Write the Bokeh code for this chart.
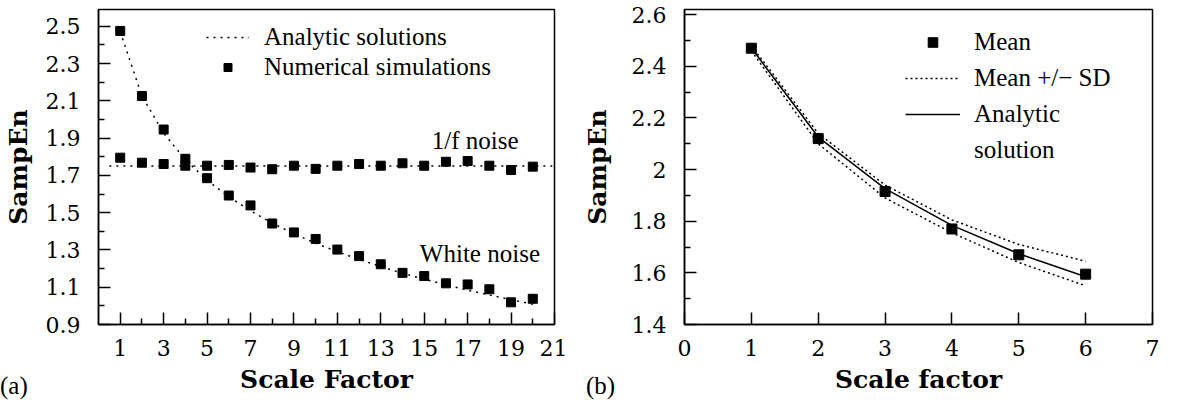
from bokeh.plotting import figure
from bokeh.layouts import row, column
from bokeh.models import Range1d, FixedTicker, Legend, LegendItem, Label, Div
from bokeh.embed import file_html
from bokeh.resources import INLINE

# ---------------- data: panel (a) ----------------
scale_a = list(range(1, 21))
white_sim = [2.475, 2.126, 1.946, 1.789, 1.685, 1.592, 1.539, 1.442, 1.394, 1.359,
             1.302, 1.267, 1.223, 1.177, 1.160, 1.121, 1.115, 1.089, 1.019, 1.038]
pink_sim = [1.795, 1.768, 1.761, 1.752, 1.752, 1.756, 1.742, 1.733, 1.752, 1.735,
            1.752, 1.761, 1.752, 1.765, 1.752, 1.773, 1.777, 1.752, 1.729, 1.747]
white_analytic = [2.471, 2.126, 1.926, 1.784, 1.674, 1.585, 1.510, 1.444, 1.387, 1.336,
                  1.291, 1.249, 1.211, 1.175, 1.143, 1.113, 1.084, 1.058, 1.033, 1.009]
pink_analytic_x = [0.5, 21]
pink_analytic_y = [1.75, 1.75]

xticks_a = [1, 3, 5, 7, 9, 11, 13, 15, 17, 19, 21]
xminor_a = [2, 4, 6, 8, 10, 12, 14, 16, 18, 20]
yticks_a = [0.9, 1.1, 1.3, 1.5, 1.7, 1.9, 2.1, 2.3, 2.5]
yminor_a = [1.0, 1.2, 1.4, 1.6, 1.8, 2.0, 2.2, 2.4]

# ---------------- data: panel (b) ----------------
scale_b = [1, 2, 3, 4, 5, 6]
mean_b = [2.470, 2.120, 1.915, 1.770, 1.670, 1.595]
upper_b = [2.480, 2.140, 1.940, 1.805, 1.710, 1.645]
lower_b = [2.460, 2.100, 1.890, 1.755, 1.640, 1.550]
analytic_b = [2.471, 2.126, 1.926, 1.784, 1.674, 1.585]

xticks_b = [0, 1, 2, 3, 4, 5, 6, 7]
yticks_b = [1.4, 1.6, 1.8, 2.0, 2.2, 2.4, 2.6]
ytick_labels_b = ["1.4", "1.6", "1.8", "2", "2.2", "2.4", "2.6"]
yminor_b = [1.5, 1.7, 1.9, 2.1, 2.3, 2.5]

FONT = "'Liberation Serif'"      # legends, notes
AXFONT = "DejaVu Serif"          # axes


def style(p, xlabel, ylabel, ylabel_standoff):
    p.xgrid.visible = False
    p.ygrid.visible = False
    p.outline_line_color = "black"
    p.outline_line_width = 1.5
    p.background_fill_color = "white"
    p.border_fill_color = "white"
    for ax in (p.xaxis[0], p.yaxis[0]):
        ax.axis_line_width = 1.5
        ax.axis_line_color = "black"
        ax.major_tick_in = 12
        ax.major_tick_out = 0
        ax.minor_tick_in = 6
        ax.minor_tick_out = 0
        ax.major_tick_line_width = 1.5
        ax.minor_tick_line_width = 1.5
        ax.major_label_text_font = AXFONT
        ax.major_label_text_font_style = "normal"
        ax.major_label_text_font_size = "22px"
        ax.major_label_text_color = "black"
        ax.axis_label_text_font = AXFONT
        ax.axis_label_text_font_style = "bold"
        ax.axis_label_text_font_size = "25px"
        ax.axis_label_text_color = "black"
    p.xaxis[0].axis_label = xlabel
    p.yaxis[0].axis_label = ylabel
    p.xaxis[0].major_label_standoff = 15
    p.xaxis[0].axis_label_standoff = 6
    p.yaxis[0].major_label_standoff = 18
    p.yaxis[0].axis_label_standoff = ylabel_standoff


# ---------------- panel (a) ----------------
pa = figure(width=567, height=400, output_backend="svg", toolbar_location=None,
            x_range=Range1d(0, 21), y_range=Range1d(0.9, 2.59),
            min_border_left=96, min_border_right=13, min_border_top=9, min_border_bottom=76)
style(pa, "Scale Factor", "SampEn", 10)
pa.xaxis[0].ticker = FixedTicker(ticks=xticks_a, minor_ticks=xminor_a)
pa.yaxis[0].ticker = FixedTicker(ticks=yticks_a, minor_ticks=yminor_a)

ra_line = pa.line(scale_a, white_analytic, line_color="black", line_width=1.5, line_dash="2 5")
pa.line(pink_analytic_x, pink_analytic_y, line_color="black", line_width=1.5, line_dash="2 5")
ra_sc = pa.scatter(scale_a, white_sim, marker="square", size=9, color="black")
pa.scatter(scale_a, pink_sim, marker="square", size=9, color="black")

leg_a = Legend(items=[LegendItem(label="Analytic solutions", renderers=[ra_line]),
                      LegendItem(label="Numerical simulations", renderers=[ra_sc])],
               location=(108, 242), border_line_color=None, background_fill_alpha=0,
               padding=0, margin=0, spacing=0, label_height=30, glyph_height=20,
               glyph_width=43, label_standoff=15, label_text_font=FONT,
               label_text_font_size="25px", label_text_color="black")
pa.add_layout(leg_a)

pa.add_layout(Label(x=15.35, y=1.885, text="1/f noise", text_font=FONT, text_font_size="25px",
                    text_baseline="middle", text_align="left", text_color="black"))
pa.add_layout(Label(x=14.8, y=1.28, text="White noise", text_font=FONT, text_font_size="25px",
                    text_baseline="middle", text_align="left", text_color="black"))

# ---------------- panel (b) ----------------
pb = figure(width=593, height=400, output_backend="svg", toolbar_location=None,
            x_range=Range1d(0, 7), y_range=Range1d(1.4, 2.62),
            min_border_left=117, min_border_right=8, min_border_top=9, min_border_bottom=76)
style(pb, "Scale factor", "SampEn", 17)
pb.xaxis[0].ticker = FixedTicker(ticks=xticks_b, minor_ticks=[])
pb.yaxis[0].ticker = FixedTicker(ticks=yticks_b, minor_ticks=yminor_b)
pb.yaxis[0].major_label_overrides = dict(zip(yticks_b, ytick_labels_b))

rb_up = pb.line(scale_b, upper_b, line_color="black", line_width=1.5, line_dash="2 3")
pb.line(scale_b, lower_b, line_color="black", line_width=1.5, line_dash="2 3")
rb_an = pb.line(scale_b, analytic_b, line_color="black", line_width=1.5)
rb_mean = pb.scatter(scale_b, mean_b, marker="square", size=10, color="black")

leg_b = Legend(items=[LegendItem(label="Mean", renderers=[rb_mean]),
                      LegendItem(label="Mean +/\u2212 SD", renderers=[rb_up]),
                      LegendItem(label="Analytic", renderers=[rb_an]),
                      LegendItem(label="solution", renderers=[])],
               location=(221, 157), border_line_color=None, background_fill_alpha=0,
               padding=0, margin=0, spacing=2, label_height=34, glyph_height=24,
               glyph_width=55, label_standoff=14, label_text_font=FONT,
               label_text_font_size="25px", label_text_color="black")
pb.add_layout(leg_b)

tags = Div(text=('<div style="font-family: \'Liberation Serif\', serif; '
                 'font-size: 25px; line-height: 28px; white-space: nowrap; color: black;">'
                 '<span style="display:inline-block;width:586px">(a)</span>'
                 '<span>(b)</span></div>'),
           width=1160, height=28, margin=(-28, 0, 0, 0))

layout = column(row(pa, pb), tags)
open("out.html", "w").write(file_html(layout, INLINE))
